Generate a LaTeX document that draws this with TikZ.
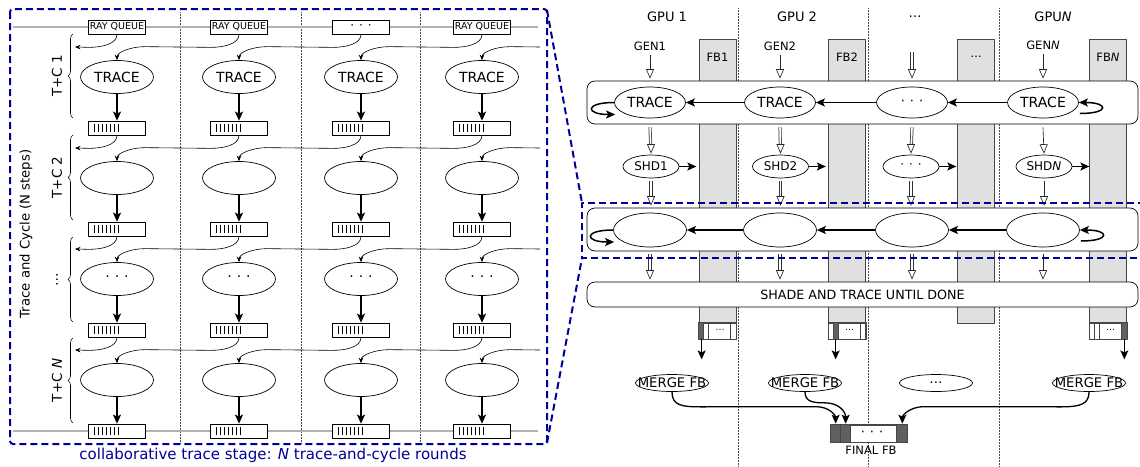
\documentclass[tikz,border=0pt]{standalone}
\usepackage{fontspec}
\setmainfont{DejaVu Sans}
\usetikzlibrary{shapes.geometric,arrows.meta,decorations.pathreplacing,calc}
\definecolor{navy}{RGB}{0,0,153}
\definecolor{fbgray}{RGB}{224,224,224}
\definecolor{fbedge}{RGB}{70,70,70}
\definecolor{cellgray}{RGB}{96,96,96}
\newcommand{\fsz}[1]{\fontsize{#1}{#1}\selectfont}
\newcommand{\mdots}{·\hspace{5pt}·\hspace{5pt}·}
\newcommand{\harrow}[2]{\draw[holshaft, shorten >=8.5pt] (#1) -- (#2); \path (#2) ++(0,-10) coordinate (htmp); \draw[sgl] (htmp) -- (#2);}
\newcommand{\sarrow}[2]{\draw[sgl] (#1) -- (#2);}
\begin{document}
\begin{tikzpicture}[x=1pt,y=-1pt,line join=round,
  lell/.style={draw, ellipse, line width=0.7pt, minimum width=73, minimum height=33, inner sep=0pt, fill=white, font=\fsz{14}},
  rell/.style={draw, ellipse, line width=0.7pt, minimum width=71, minimum height=31, inner sep=0pt, fill=white, font=\fsz{14}},
  rellb/.style={rell, minimum width=73, minimum height=34},
  shd/.style={draw, ellipse, line width=0.7pt, minimum width=56, minimum height=23, inner sep=0pt, fill=white, font=\fsz{12}},
  mrg/.style={draw, ellipse, line width=0.7pt, minimum width=73, minimum height=17, inner sep=0pt, fill=white},
  qbox/.style={draw, rectangle, line width=0.7pt, minimum width=57, minimum height=14, inner sep=0pt, fill=white, font=\fsz{9.5}},
  buf/.style={qbox, path picture={\foreach \dx in {-23,-19,...,1}{\draw[line width=0.7pt] ($(path picture bounding box.center)+(\dx,-4)$) -- +(0,8);}}},
  rail/.style={draw=black!70, double=black!30, double distance=1.3pt, line width=0.8pt},
  conn/.style={line width=0.6pt, -{Stealth[length=5.5pt,width=4.5pt]}},
  tarr/.style={line width=1.5pt, -{Stealth[length=9pt,width=8pt,inset=2pt]}},
  marr/.style={line width=1.3pt, -{Stealth[length=9pt,width=8pt,inset=2pt]}},
  sep/.style={densely dotted, line width=0.5pt, black!70},
  band/.style={draw, rounded corners=8pt, fill=white, line width=0.7pt, inner sep=0pt},
  fbcol/.style={draw=fbedge, fill=fbgray, line width=0.7pt, inner sep=0pt},
  bluedash/.style={draw=navy, line width=2pt, dash pattern=on 7pt off 4pt},
  holshaft/.style={draw=black!80, double=white, double distance=1.6pt, line width=0.75pt},
  sgl/.style={line width=0.65pt, black!85, -{Triangle[open,length=9.5pt,width=8pt,fill=white]}},
]
\useasboundingbox (0,0) rectangle (1140,466);
\fill[white] (0,0) rectangle (1140,466);

% ================= left panel =================
\foreach \x in {180,301,420} \draw[sep] (\x,12) -- (\x,443);
\draw[rail] (13,27) -- (538,27);
\draw[rail] (13,431) -- (538,431);

\node[qbox] (b01) at (117,27) {RAY QUEUE};
\node[qbox] (b02) at (239,27) {RAY QUEUE};
\node[qbox,font=\fsz{12}] (b03) at (361,27) {\mdots};
\node[qbox] (b04) at (482,27) {RAY QUEUE};

\foreach \r/\y/\t in {1/77/TRACE,2/178/{},3/279/{\mdots},4/380/{}} {
  \foreach \k/\x in {1/117,2/239,3/361,4/482} {
    \node[lell] (e\r\k) at (\x,\y) {\t};
  }
}
\foreach \r/\y in {1/128,2/229,3/330,4/431} {
  \foreach \k/\x in {1/117,2/239,3/361,4/482} {
    \node[buf] (b\r\k) at (\x,\y) {};
    \draw[tarr] (e\r\k.south) -- (b\r\k.north);
  }
}
\foreach \r/\y in {1/47,2/148,3/249,4/350} {
  \coordinate (lend\r) at (75,\y);
  \coordinate (rin\r) at (540,\y);
}
\foreach \r/\p in {1/0,2/1,3/2,4/3} {
  \foreach \k/\km in {2/1,3/2,4/3} {
    \draw[conn] (b\p\k.south) .. controls +(0,10) and +(12,0) .. ($(b\p\k.south)+(-28,13)$) -- ($(e\r\km.north)+(28,-13.5)$) .. controls +(-14,0) and +(0,-8) .. (e\r\km.north);
  }
  \draw[conn] (b\p1.south) .. controls +(0,10) and +(12,0) .. ($(b\p1.south)+(-28,13)$) -- (lend\r);
  \draw[conn] (rin\r) -- ($(e\r4.north)+(28,-13.5)$) .. controls +(-14,0) and +(0,-8) .. (e\r4.north);
}

\foreach \ya/\yb/\lab in {34/118/{T+C 1},135/220/{T+C 2},237/322/{…},338/423/{T+C \textit{N}}} {
  \draw[decorate, decoration={brace, amplitude=5pt}, line width=0.6pt] (73,\yb) -- (73,\ya);
  \node[rotate=90, font=\fsz{13.5}] at (57,{(\ya+\yb)/2}) {\lab};
}
\node[rotate=90, font=\fsz{13.2}] at (26,234) {Trace and Cycle (N steps)};

\node[text=navy, font=\fsz{15}] at (273,455) {collaborative trace stage: \textit{N} trace-and-cycle rounds};

% ================= right panel =================
\foreach \i/\x/\h in {1/717.5/283,2/847/283,3/976/284,4/1108/283}
  \node[fbcol, minimum width=37, minimum height=\h, anchor=north] (fb\i) at (\x,39) {};

\foreach \x in {738,868,999} \draw[sep] (\x,8) -- (\x,466);

\node[band, minimum width=551, minimum height=43] (B1) at (862.5,102.5) {};
\node[band, minimum width=551, minimum height=43] (B2) at (862.5,229.5) {};
\node[band, minimum width=551, minimum height=25, font=\fsz{12.7}] (B3) at (862.5,294.5) {SHADE AND TRACE UNTIL DONE};

\node[font=\fsz{13}] at (667,17) {GPU 1};
\node[font=\fsz{13}] at (797,17) {GPU 2};
\node[font=\fsz{13}] at (915,17) {…};
\node[font=\fsz{13}] at (1053,17) {GPU\textit{N}};

\node[font=\fsz{11.5}] (gen1) at (650,46) {GEN1};
\node[font=\fsz{11.5}] (gen2) at (780,46) {GEN2};
\coordinate (gen3) at (912,52);
\node[font=\fsz{11.5}] (gen4) at (1043,45) {GEN\textit{N}};

\node[font=\fsz{11.5}] at (717.5,57) {FB1};
\node[font=\fsz{11.5}] at (847,57) {FB2};
\node[font=\fsz{11.5}] at (976,57) {…};
\node[font=\fsz{11.5}] at (1108,57) {FB\textit{N}};

\node[rell] (t1) at (650,102.5) {TRACE};
\node[rell] (t2) at (780,102.5) {TRACE};
\node[rell,font=\fsz{13}] (t3) at (912,102.5) {\mdots};
\node[rell] (t4) at (1043,102.5) {TRACE};

\node[shd] (s1) at (651,166.5) {SHD1};
\node[shd] (s2) at (780.5,166.5) {SHD2};
\node[shd] (s3) at (911,166.5) {\mdots};
\node[shd] (s4) at (1044,166.5) {SHD\textit{N}};

\node[rellb] (u1) at (650,230) {};
\node[rellb] (u2) at (780,230) {};
\node[rellb] (u3) at (912,230) {};
\node[rellb] (u4) at (1043,230) {};

\draw[tarr] (t4.west) -- (t3.east);
\draw[tarr] (t3.west) -- (t2.east);
\draw[tarr] (t2.west) -- (t1.east);
\draw[tarr] (u4.west) -- (u3.east);
\draw[tarr] (u3.west) -- (u2.east);
\draw[tarr] (u2.west) -- (u1.east);
\draw[tarr] (t1.west) .. controls +(-30,0) and +(-30,0) .. ($(t1.west)+(1,12)$);
\draw[tarr] ($(t4.east)+(1,11)$) .. controls +(30,0) and +(30,0) .. (t4.east);
\draw[tarr] (u1.west) .. controls +(-30,0) and +(-30,0) .. ($(u1.west)+(1,12)$);
\draw[tarr] ($(u4.east)+(1,11)$) .. controls +(30,0) and +(30,0) .. (u4.east);

\foreach \i in {1,2,3,4} {
  \coordinate (sr\i) at ($(s\i.east)+(17,0)$);
  \draw[tarr] (s\i.east) -- (sr\i);
}

% vertical flow arrows
\foreach \i in {1,2,4} \path (gen\i.south) ++(0,1) coordinate (v\i-a);
\path (gen3) coordinate (v3-a);
\foreach \i in {1,2,3,4} {
  \path (t\i |- B1.north) ++(0,-2) coordinate (v\i-b);
  \path (t\i |- B1.south) ++(0,3) coordinate (v\i-c);
  \path (s\i.north) ++(0,-1) coordinate (v\i-d);
  \path (s\i.south) ++(0,3) coordinate (v\i-e);
  \path (s\i |- B2.north) ++(0,-2) coordinate (v\i-f);
  \path (u\i |- B2.south) ++(0,3) coordinate (v\i-g);
  \path (u\i |- B3.north) ++(0,-2) coordinate (v\i-h);
}
\sarrow{v1-a}{v1-b}
\sarrow{v2-a}{v2-b}
\harrow{v3-a}{v3-b}
\sarrow{v4-a}{v4-b}
\foreach \i in {1,2,3} {
  \harrow{v\i-c}{v\i-d}
  \harrow{v\i-e}{v\i-f}
  \harrow{v\i-g}{v\i-h}
}
\sarrow{v4-c}{v4-d}
\sarrow{v4-e}{v4-f}
\sarrow{v4-g}{v4-h}

% per-GPU frame buffer slices
\foreach \i in {1,2,4} {
  \node[draw=fbedge, fill=white, line width=0.7pt, minimum width=37, minimum height=16, inner sep=0pt, anchor=north] (fq\i) at (fb\i.south) {};
}
\fill[cellgray] (fq1.north west) rectangle ($(fq1.south west)+(5,0)$);
\fill[cellgray] ($(fq2.north west)+(5,0)$) rectangle ($(fq2.south west)+(10,0)$);
\fill[cellgray] ($(fq4.north east)+(-5,0)$) rectangle (fq4.south east);
\foreach \i in {1,2,4} {
  \foreach \dx in {5,10,32} \draw[fbedge, line width=0.6pt] ($(fq\i.north west)+(\dx,0)$) -- ($(fq\i.south west)+(\dx,0)$);
  \draw[fbedge, line width=0.7pt] (fq\i.north west) rectangle (fq\i.south east);
  \node[font=\fsz{9}] at ($(fq\i.center)+(2.5,-1)$) {…};
}
\coordinate (fd1) at ($(fq1.south west)+(3,20)$);
\coordinate (fd2) at ($(fq2.south west)+(7.5,20)$);
\coordinate (fd4) at ($(fq4.south east)+(-2.5,20)$);
\draw[tarr] ($(fq1.south west)+(3,0)$) -- (fd1);
\draw[tarr] ($(fq2.south west)+(7.5,0)$) -- (fd2);
\draw[tarr] ($(fq4.south east)+(-2.5,0)$) -- (fd4);

% merge
\node[mrg, label={[font=\fsz{13.2}]center:MERGE FB}] (m1) at (672,383) {};
\node[mrg, label={[font=\fsz{13.2}]center:MERGE FB}] (m2) at (805,383) {};
\node[mrg, label={[font=\fsz{13.2}]center:…}] (m3) at (936,383) {};
\node[mrg, label={[font=\fsz{13.2}]center:MERGE FB}] (m4) at (1089,383) {};

\node[draw=fbedge, fill=white, line width=0.7pt, minimum width=76, minimum height=17, inner sep=0pt] (ffb) at (869,433.5) {};
\fill[cellgray] (ffb.north west) rectangle ($(ffb.south west)+(20,0)$);
\fill[cellgray] ($(ffb.north east)+(-10,0)$) rectangle (ffb.south east);
\foreach \dx in {10,20,66} \draw[fbedge, line width=0.6pt] ($(ffb.north west)+(\dx,0)$) -- ($(ffb.south west)+(\dx,0)$);
\draw[fbedge, line width=0.7pt] (ffb.north west) rectangle (ffb.south east);
\node[font=\fsz{13}] at ($(ffb.center)+(3,0)$) {\mdots};
\node[font=\fsz{11.5}] at (871,450) {FINAL FB};
\coordinate (ffb1) at ($(ffb.north west)+(5,-1)$);
\coordinate (ffb2) at ($(ffb.north west)+(15,-1)$);
\coordinate (ffb3) at ($(ffb.north east)+(-5,-1)$);

\draw[marr] (m1.south) .. controls +(0,14) and +(-20,0) .. ($(m1.south)+(30,15)$) -- ($(ffb1)+(-20,-17)$) .. controls +(14,0) and +(0,-8) .. (ffb1);
\draw[marr] (m2.south) .. controls +(0,10) and +(-12,0) .. ($(m2.south)+(20,11)$) .. controls +(14,0) and +(0,-12) .. (ffb2);
\draw[marr] (m4.south) .. controls +(0,12) and +(20,0) .. ($(m4.south)+(-28,15)$) -- ($(ffb3)+(22,-17)$) .. controls +(-15,0) and +(0,-8) .. (ffb3);

% ================= blue dashed frames =================
\draw[bluedash, rounded corners=3pt] (10,9) rectangle (547,444);
\draw[bluedash] (547,10) -- (582,203);
\draw[bluedash] (547,443) -- (582,258);
\draw[bluedash] (1145,203) -- (582,203) -- (582,258) -- (1145,258);
\end{tikzpicture}
\end{document}
